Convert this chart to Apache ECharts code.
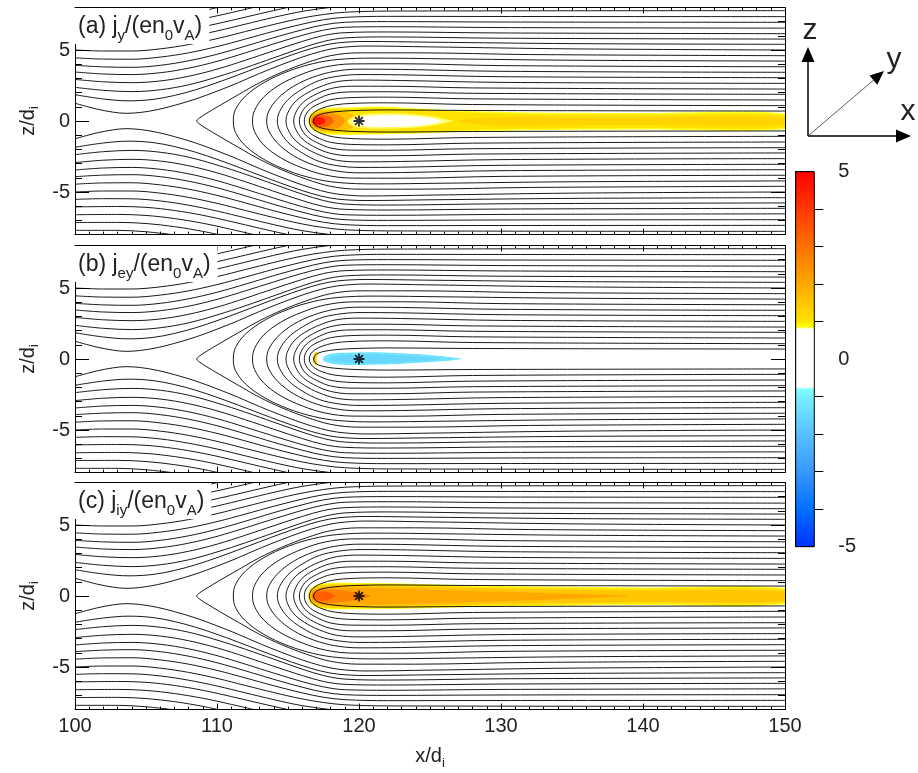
<!DOCTYPE html>
<html><head><meta charset="utf-8">
<script src="https://cdn.jsdelivr.net/npm/echarts@6/dist/echarts.min.js"></script>
<style>html,body{margin:0;padding:0;background:#fff}#c{width:918px;height:773px}</style>
</head><body><div id="c"></div>
<script>
// ---------------- data ----------------
const xRange = [100, 150];
const zRange = [-8, 8];
const xTickStep = 10;
const zMajorTicks = [-5, 0, 5];
const zMinorTicks = [-8,-7,-6,-4,-3,-2,-1,1,2,3,4,6,7,8];
const cbarRange = [-5, 5];
const cbarMajorTicks = [-5, 0, 5];
const cbarMinorTicks = [-4,-3,-2,-1,1,2,3,4];
const panelLabels = [
  '(a) j{s|y}/(en{s|0}v{s|A})',
  '(b) j{s|ey}/(en{s|0}v{s|A})',
  '(c) j{s|iy}/(en{s|0}v{s|A})'
];
const starPoint = [120, 0];

// closed (hairpin) field lines: upper branch from the nose to the right edge, the sheet is symmetric in z
const hairpinUpper = [
  [[116.8,0],[116.9,0.25],[117.15,0.42],[117.6,0.55],[118.3,0.65],[119.5,0.73],[122,0.78],[128,0.74],[150,0.70]],
  [[116.5,0],[116.6,0.35],[116.9,0.65],[117.4,0.9],[118.2,1.12],[119.5,1.24],[122,1.28],[128,1.16],[150,1.08]],
  [[116.15,0],[116.25,0.45],[116.6,0.88],[117.2,1.22],[118,1.5],[119.5,1.65],[122,1.68],[128,1.56],[150,1.48]],
  [[115.8,0],[115.92,0.5],[116.3,1.05],[117,1.5],[118,1.9],[119.5,2.05],[122,2.06],[128,1.95],[150,1.88]],
  [[115.4,0],[115.55,0.6],[116,1.25],[116.8,1.8],[118,2.28],[119.5,2.45],[122,2.45],[128,2.33],[150,2.25]],
  [[114.86,0],[115.0,0.6],[115.5,1.35],[116.4,2.0],[117.5,2.5],[118.5,2.78],[120,2.88],[123,2.85],[130,2.72],[150,2.65]],
  [[114.25,0],[114.4,0.65],[115,1.5],[116,2.25],[117.2,2.85],[118.5,3.15],[120,3.27],[123,3.25],[130,3.12],[150,3.05]],
  [[113.5,0],[113.65,0.7],[114.3,1.6],[115.4,2.45],[116.8,3.1],[118.3,3.5],[120,3.65],[123,3.63],[130,3.5],[150,3.43]],
  [[112.5,0],[112.65,0.75],[113.3,1.7],[114.5,2.6],[116,3.3],[117.6,3.8],[119.5,4.02],[123,4.03],[130,3.9],[150,3.82]],
  [[111.15,0],[111.3,0.8],[112,1.75],[113.3,2.7],[115,3.5],[116.8,4.05],[118.5,4.33],[121,4.43],[126,4.38],[135,4.28],[150,4.22]],
  [[108.57,0],[108.75,0.2],[109.2,0.5],[110.2,1.1],[111.5,1.85],[113,2.7],[114.6,3.45],[116.3,4.1],[118,4.6],[120,4.8],[124,4.8],[132,4.68],[150,4.6]]
];

// open field lines entering at the left edge (upper half)
const openUpper = [
  [[100,1.25],[101.5,0.85],[102.7,0.62],[103.6,0.54],[104.6,0.6],[105.8,0.8],[107,1.1],[108.5,1.55],[110,2.1],[111.5,2.7],[113,3.35],[114.5,3.95],[116,4.5],[117.3,4.9],[118.5,5.15],[120.5,5.28],[125,5.22],[135,5.08],[150,5.0]],
  [[100,1.85],[102,1.55],[103.8,1.42],[105.5,1.52],[107,1.8],[108.5,2.2],[110,2.7],[111.5,3.25],[113,3.82],[114.5,4.38],[116,4.9],[117.3,5.28],[118.5,5.5],[120.5,5.6],[125,5.55],[135,5.45],[150,5.4]],
  [[100,2.37],[102,2.16],[104,2.07],[106,2.2],[108,2.55],[110,3.1],[112,3.75],[114,4.45],[116,5.15],[117.5,5.6],[119,5.85],[122,5.92],[130,5.83],[150,5.77]],
  [[100,2.93],[102,2.76],[104,2.7],[106,2.82],[108,3.15],[110,3.65],[112,4.28],[114,4.95],[116,5.6],[117.5,6.02],[119,6.22],[122,6.27],[130,6.2],[150,6.15]],
  [[100,3.45],[102,3.31],[104,3.27],[106,3.4],[108,3.72],[110,4.2],[112,4.8],[114,5.43],[116,6.03],[117.5,6.4],[119,6.6],[122,6.64],[130,6.58],[150,6.54]],
  [[100,3.92],[102,3.81],[104,3.78],[106,3.92],[108,4.24],[110,4.7],[112,5.27],[114,5.87],[116,6.42],[117.5,6.77],[119,6.95],[122,7.0],[130,6.97],[150,6.95]],
  [[100,4.45],[102,4.36],[104,4.35],[106,4.5],[108,4.8],[110,5.24],[112,5.77],[114,6.32],[116,6.82],[117.5,7.13],[119,7.3],[122,7.37],[130,7.36],[150,7.35]],
  [[100,5.0],[102,4.93],[104,4.93],[106,5.08],[108,5.38],[110,5.8],[112,6.3],[114,6.8],[116,7.25],[117.5,7.5],[119,7.66],[122,7.74],[150,7.77]],
  [[100,5.52],[102,5.47],[104,5.48],[106,5.63],[108,5.93],[110,6.34],[112,6.82],[114,7.3],[116,7.72],[118,8.0],[119,8.1]],
  [[100,6.05],[103,6.02],[105,6.08],[107,6.3],[109,6.64],[111,7.08],[113,7.55],[115,8.0],[115.5,8.1]],
  [[100,6.6],[103,6.58],[105,6.65],[107,6.87],[109,7.2],[111,7.63],[112.8,8.05]],
  [[100,7.15],[103,7.14],[105,7.22],[107,7.44],[109,7.77],[110.3,8.05]],
  [[100,7.7],[103,7.7],[105,7.8],[107,8.02]]
];

// current-density patches: level = value of j on the colour scale, outline in (x, z)
const patchesA = [
  {level:0.86, outline:[[116.42,0],[116.47,0.32],[116.72,0.62],[117.3,0.86],[118.2,0.95],[119.5,0.96],[120.8,1.02],[122.3,1.0],[123.8,0.9],[125.8,0.8],[128.5,0.68],[132,0.6],[140,0.56],[150,0.53],[150,-0.56],[140,-0.6],[132,-0.65],[128.5,-0.72],[125.8,-0.82],[123,-0.92],[120,-0.97],[118.2,-0.97],[117.3,-0.88],[116.72,-0.63],[116.47,-0.32]]},
  {level:1.02, outline:[[116.5,0],[116.55,0.3],[116.8,0.57],[117.35,0.79],[118.2,0.87],[119.5,0.88],[120.8,0.93],[122.3,0.9],[123.8,0.8],[125.8,0.7],[128.5,0.58],[132,0.5],[140,0.46],[150,0.43],[150,-0.47],[140,-0.5],[132,-0.55],[128.5,-0.62],[125.8,-0.73],[123,-0.83],[120,-0.88],[118.2,-0.88],[117.35,-0.8],[116.8,-0.58],[116.55,-0.3]]},
  {level:1.3, outline:[[127,0],[128.5,0.22],[131,0.27],[138,0.25],[150,0.22],[150,-0.26],[138,-0.29],[131,-0.31],[128.5,-0.26]]},
  {level:1.6, outline:[[116.56,0],[116.62,0.28],[116.85,0.52],[117.4,0.7],[118.2,0.74],[119,0.66],[119.6,0.45],[119.9,0],[119.6,-0.45],[119,-0.68],[118.2,-0.76],[117.4,-0.72],[116.85,-0.53],[116.62,-0.28]]},
  {level:2.3, outline:[[116.62,0],[116.68,0.25],[116.9,0.45],[117.4,0.58],[118,0.57],[118.6,0.43],[118.9,0.2],[119,0],[118.9,-0.2],[118.6,-0.45],[118,-0.58],[117.4,-0.6],[116.9,-0.46],[116.68,-0.25]]},
  {level:3.3, outline:[[116.68,0],[116.74,0.2],[116.92,0.36],[117.3,0.43],[117.75,0.38],[118.1,0.22],[118.2,0],[118.1,-0.22],[117.75,-0.38],[117.3,-0.44],[116.92,-0.36],[116.74,-0.2]]},
  {level:4.6, outline:[[116.73,0],[116.79,0.14],[116.95,0.25],[117.2,0.28],[117.5,0.2],[117.62,0],[117.5,-0.2],[117.2,-0.28],[116.95,-0.25],[116.79,-0.14]]},
  {level:0.84, outline:[[119.2,0],[119.6,0.3],[120.5,0.5],[122,0.55],[123.8,0.48],[125.3,0.32],[126.3,0.08],[126.6,0],[126.2,-0.12],[125,-0.35],[123.5,-0.5],[121.5,-0.55],[120,-0.5],[119.4,-0.28]]},
  {level:0.3, outline:[[119.5,0],[120,0.25],[121,0.38],[122.5,0.4],[124,0.33],[125.3,0.15],[125.8,0],[125.3,-0.18],[124,-0.35],[122.5,-0.42],[121,-0.4],[120,-0.28]]}
];
const patchesB = [
  {level:1.05, outline:[[116.95,0.48],[116.82,0.3],[116.78,0],[116.82,-0.3],[116.95,-0.45],[117.12,-0.4],[117.04,-0.2],[117.02,0],[117.05,0.25],[117.15,0.43]]},
  {level:1.8, outline:[[116.86,0.25],[116.82,0],[116.86,-0.22],[116.96,-0.15],[116.95,0],[116.97,0.15]]},
  {level:-1.25, outline:[[117.45,0],[117.6,0.22],[118.2,0.38],[119.5,0.45],[121,0.47],[122.5,0.43],[124,0.35],[125.5,0.23],[126.6,0.11],[127.25,0.02],[126.6,-0.08],[125.5,-0.18],[124,-0.28],[122.5,-0.36],[121,-0.41],[119.5,-0.42],[118.2,-0.35],[117.6,-0.2]]},
  {level:-1.5, outline:[[117.9,0],[118.3,0.2],[119.5,0.3],[121,0.32],[122.5,0.28],[124,0.2],[125.3,0.08],[125.8,0],[125.3,-0.06],[124,-0.15],[122.5,-0.24],[121,-0.28],[119.5,-0.28],[118.3,-0.18]]}
];
const patchesC = [
  {level:0.86, outline:[[116.4,0],[116.45,0.32],[116.7,0.62],[117.3,0.86],[118.3,0.93],[120,0.92],[122,0.9],[125,0.83],[128,0.75],[132,0.68],[140,0.6],[150,0.55],[150,-0.58],[140,-0.64],[132,-0.72],[128,-0.78],[125,-0.86],[122,-0.92],[120,-0.94],[118.3,-0.95],[117.3,-0.88],[116.7,-0.63],[116.45,-0.32]]},
  {level:1.1, outline:[[116.48,0],[116.53,0.3],[116.78,0.57],[117.35,0.78],[118.3,0.85],[120,0.84],[122,0.82],[125,0.75],[128,0.66],[132,0.59],[140,0.51],[150,0.46],[150,-0.49],[140,-0.55],[132,-0.63],[128,-0.69],[125,-0.77],[122,-0.83],[120,-0.86],[118.3,-0.87],[117.35,-0.8],[116.78,-0.58],[116.53,-0.3]]},
  {level:1.5, outline:[[116.55,0],[116.6,0.28],[116.85,0.55],[117.5,0.72],[119,0.76],[121,0.73],[124,0.66],[128,0.56],[133,0.46],[140,0.38],[150,0.33],[150,-0.36],[140,-0.42],[133,-0.5],[128,-0.6],[124,-0.7],[121,-0.77],[119,-0.79],[117.5,-0.74],[116.85,-0.56],[116.6,-0.28]]},
  {level:2.0, outline:[[116.6,0],[116.66,0.25],[116.9,0.47],[117.6,0.6],[119,0.6],[121,0.57],[124,0.48],[128,0.36],[132,0.25],[136,0.12],[139,0],[136,-0.15],[132,-0.3],[128,-0.42],[124,-0.54],[121,-0.62],[119,-0.64],[117.6,-0.63],[116.9,-0.48],[116.66,-0.25]]},
  {level:2.7, outline:[[116.66,0],[116.72,0.22],[116.95,0.38],[117.5,0.46],[118.5,0.42],[119.5,0.3],[120.5,0.1],[120.8,0],[120.5,-0.12],[119.5,-0.32],[118.5,-0.44],[117.5,-0.48],[116.95,-0.39],[116.72,-0.22]]},
  {level:3.3, outline:[[116.72,0],[116.78,0.16],[117,0.28],[117.4,0.32],[117.9,0.25],[118.2,0.1],[118.3,0],[118.2,-0.1],[117.9,-0.26],[117.4,-0.33],[117,-0.29],[116.78,-0.16]]}
];
const panelPatches = [patchesA, patchesB, patchesC];

// colour scale of the colour bar (value, colour)
const cmap = [[-5,'#0030ff'],[-4,'#0070ff'],[-3,'#3898ff'],[-2,'#58c0ff'],[-1,'#78eeff'],[-0.8,'#80ffff'],[-0.74,'#ffffff'],[0.8,'#ffffff'],[0.87,'#ffff00'],[1,'#ffe400'],[2,'#ffa800'],[3,'#ff7000'],[4,'#ff3800'],[5,'#ff0000']];

// ---------------- rendering ----------------
const FONT = "'Liberation Sans', Arial, Helvetica, sans-serif";
const TXT = '#222';
function hex2rgb(h){return [parseInt(h.substr(1,2),16),parseInt(h.substr(3,2),16),parseInt(h.substr(5,2),16)];}
function colorFor(v){
  if (v <= cmap[0][0]) return cmap[0][1];
  for (let k=1;k<cmap.length;k++){
    if (v <= cmap[k][0]){
      const [v0,c0]=cmap[k-1],[v1,c1]=cmap[k];
      const t=(v-v0)/(v1-v0), a=hex2rgb(c0), b=hex2rgb(c1);
      return 'rgb('+a.map((x,i)=>Math.round(x+(b[i]-x)*t)).join(',')+')';
    }
  }
  return cmap[cmap.length-1][1];
}

const chart = echarts.init(document.getElementById('c'), null, {renderer:'canvas'});
const panelTops = [7.4, 245.4, 482.4];
const grids = panelTops.map(t => ({left:75, top:t, width:710, height:227.2}));
grids.push({left:795.7, top:171.7, width:18.6, height:375});

const xAxes = [], yAxes = [], series = [];
const blackLine = {color:'#000', width:1};
const subRich = {s:{fontSize:13, lineHeight:26, verticalAlign:'bottom', color:TXT, fontFamily:FONT}};

for (let i=0;i<3;i++){
  ['bottom','top'].forEach(pos => {
    xAxes.push({gridIndex:i, type:'value', min:xRange[0], max:xRange[1], interval:xTickStep, position:pos,
      axisLine:{show:true,onZero:false,lineStyle:blackLine},
      axisTick:{show:true,inside:true,length:6,lineStyle:blackLine},
      minorTick:{show:true,splitNumber:10,length:3,lineStyle:blackLine},
      splitLine:{show:false}, minorSplitLine:{show:false},
      axisLabel:{show:(pos==='bottom' && i===2), fontSize:20, color:TXT, margin:7, fontFamily:FONT},
      name:(pos==='bottom' && i===2)?'x/d{s|i}':'', nameLocation:'middle', nameGap:34,
      nameTextStyle:{fontSize:20, color:TXT, fontFamily:FONT, lineHeight:22, rich:subRich}
    });
  });
  ['left','right'].forEach(pos => {
    yAxes.push({gridIndex:i, type:'value', min:zRange[0], max:zRange[1], position:pos,
      axisLine:{show:true,onZero:false,lineStyle:blackLine},
      axisTick:{show:true,inside:true,length:14,customValues:zMajorTicks,lineStyle:blackLine},
      axisLabel:{show:pos==='left', customValues:zMajorTicks, fontSize:20, color:TXT, margin:5, fontFamily:FONT},
      splitLine:{show:false},
      name: pos==='left' ? 'z/d{s|i}' : '', nameLocation:'middle', nameGap:34, nameRotate:90,
      nameTextStyle:{fontSize:20, color:TXT, fontFamily:FONT, lineHeight:22, rich:subRich}
    });
    yAxes.push({gridIndex:i, type:'value', min:zRange[0], max:zRange[1], position:pos,
      axisLine:{show:false,onZero:false},
      axisTick:{show:true,inside:true,length:7,customValues:zMinorTicks,lineStyle:blackLine},
      axisLabel:{show:false}, splitLine:{show:false}
    });
  });
  const xi = 2*i, yi = 4*i;
  const patches = panelPatches[i];
  series.push({type:'custom', coordinateSystem:'cartesian2d', xAxisIndex:xi, yAxisIndex:yi, clip:true, silent:true, z:1,
    data: patches.map((p,k)=>[p.outline[0][0], p.outline[0][1], k]),
    encode:{x:0, y:1},
    renderItem:(params, api) => {
      const p = patches[params.dataIndex];
      return {type:'polygon', shape:{points:p.outline.map(q=>api.coord(q)), smooth:0.3},
              style:{fill:colorFor(p.level)}};
    }
  });
  const lineBase = {type:'line', xAxisIndex:xi, yAxisIndex:yi, smooth:0.35, symbol:'none', silent:true, z:2,
                    lineStyle:{color:'#000', width:0.9}, clip:true};
  hairpinUpper.forEach(up => {
    const lower = up.slice(1).map(p=>[p[0],-p[1]]).reverse();
    series.push(Object.assign({}, lineBase, {data: lower.concat(up)}));
  });
  openUpper.forEach(up => {
    series.push(Object.assign({}, lineBase, {data: up}));
    series.push(Object.assign({}, lineBase, {data: up.map(p=>[p[0],-p[1]])}));
  });
  series.push({type:'scatter', xAxisIndex:xi, yAxisIndex:yi, data:[starPoint], silent:true, z:5,
    symbol:'path://M-1,-6L1,-6L1,6L-1,6Z M-6,-1L6,-1L6,1L-6,1Z M-3.54,-4.95L4.95,3.54L3.54,4.95L-4.95,-3.54Z M-4.95,3.54L3.54,-4.95L4.95,-3.54L-3.54,4.95Z',
    symbolSize:11, itemStyle:{color:'#000'}});
}

// colour bar
xAxes.push({gridIndex:3, type:'value', min:0, max:1, show:false});
yAxes.push({gridIndex:3, type:'value', min:cbarRange[0], max:cbarRange[1], position:'right',
  axisLine:{show:true,lineStyle:blackLine},
  axisTick:{show:true,inside:false,length:18,customValues:cbarMajorTicks,lineStyle:blackLine},
  axisLabel:{show:true,customValues:cbarMajorTicks,fontSize:20,color:TXT,margin:24,fontFamily:FONT},
  splitLine:{show:false}});
yAxes.push({gridIndex:3, type:'value', min:cbarRange[0], max:cbarRange[1], position:'right',
  axisLine:{show:false},
  axisTick:{show:true,inside:false,length:9,customValues:cbarMinorTicks,lineStyle:blackLine},
  axisLabel:{show:false}, splitLine:{show:false}});
const stops = cmap.map(([v,c]) => ({offset:(cbarRange[1]-v)/(cbarRange[1]-cbarRange[0]), color:c}))
                  .sort((a,b)=>a.offset-b.offset);
series.push({type:'custom', coordinateSystem:'cartesian2d', xAxisIndex:6, yAxisIndex:12, silent:true, z:1,
  data:[[0, cbarRange[1]]],
  renderItem:(params, api) => {
    const p0 = api.coord([0, cbarRange[1]]), p1 = api.coord([1, cbarRange[0]]);
    return {type:'rect', shape:{x:p0[0], y:p0[1], width:p1[0]-p0[0], height:p1[1]-p0[1]},
      style:{fill:new echarts.graphic.LinearGradient(0,0,0,1,stops), stroke:'#000', lineWidth:1}};
  }});

const titles = panelLabels.map((t,i) => ({
  text:t, left:75, top:panelTops[i]+0.6, padding:[3,7,1,3], backgroundColor:'#fff',
  textStyle:{fontSize:23, fontWeight:'normal', color:TXT, fontFamily:FONT, lineHeight:26,
    rich:{s:{fontSize:15, lineHeight:32, verticalAlign:'bottom', color:TXT, fontFamily:FONT}}}
}));

// coordinate-system sketch (top right)
const graphic = [
  {type:'line', shape:{x1:808,y1:136,x2:808,y2:58}, style:{stroke:'#000', lineWidth:1.5}},
  {type:'polygon', shape:{points:[[808,47],[801.5,62],[814.5,62]]}, style:{fill:'#000'}},
  {type:'line', shape:{x1:808,y1:136,x2:898,y2:136}, style:{stroke:'#000', lineWidth:1.5}},
  {type:'polygon', shape:{points:[[911,136],[896,129.5],[896,142.5]]}, style:{fill:'#000'}},
  {type:'line', shape:{x1:808,y1:136,x2:876,y2:78}, style:{stroke:'#333', lineWidth:0.8}},
  {type:'polygon', shape:{points:[[884,71],[877.3,84.7],[869.5,75.5]]}, style:{fill:'#000'}},
  {type:'text', style:{text:'z', x:810, y:31, font:'30px '+FONT, fill:TXT, textAlign:'center', textVerticalAlign:'middle', verticalAlign:'middle'}},
  {type:'text', style:{text:'y', x:894, y:60, font:'30px '+FONT, fill:TXT, textAlign:'center', textVerticalAlign:'middle', verticalAlign:'middle'}},
  {type:'text', style:{text:'x', x:908, y:112, font:'30px '+FONT, fill:TXT, textAlign:'center', textVerticalAlign:'middle', verticalAlign:'middle'}}
];

chart.setOption({
  animation:false,
  backgroundColor:'#fff',
  textStyle:{fontFamily:FONT},
  title:titles,
  grid:grids,
  xAxis:xAxes,
  yAxis:yAxes,
  series:series,
  graphic:graphic
});
</script></body></html>
